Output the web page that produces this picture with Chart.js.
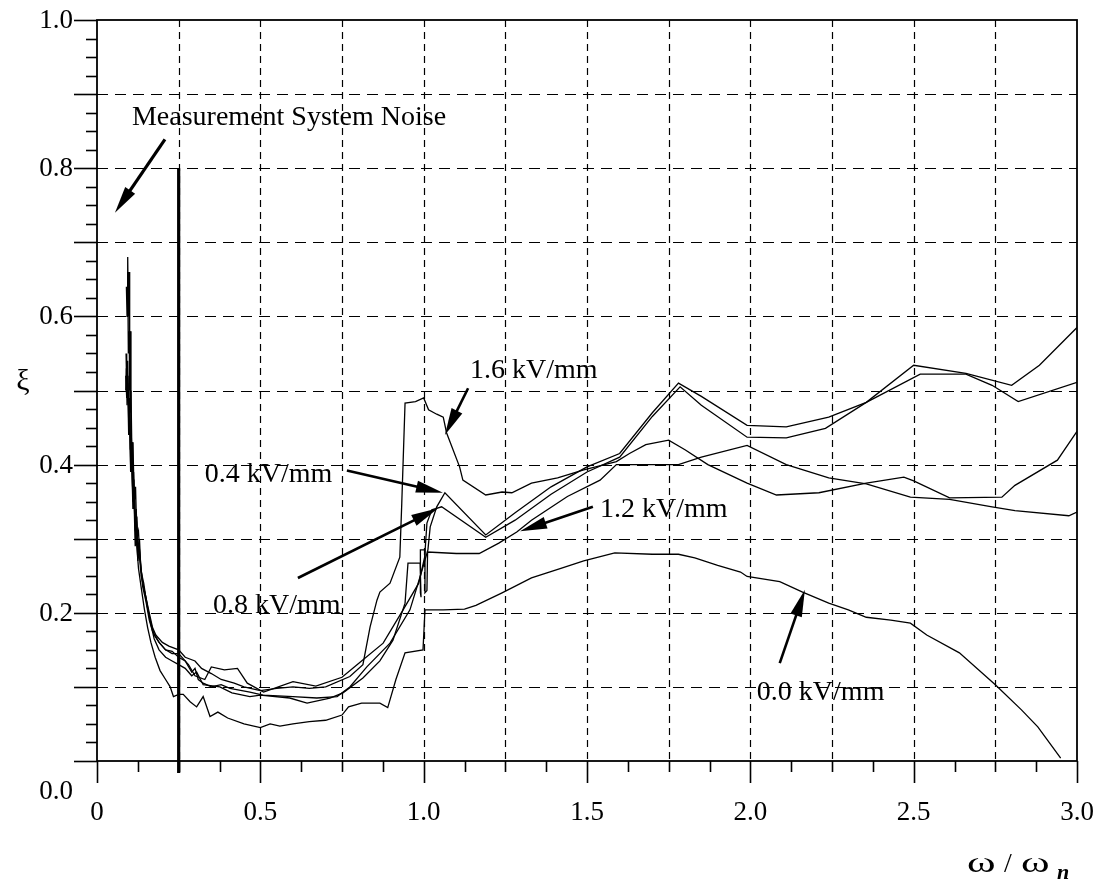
<!DOCTYPE html>
<html>
<head>
<meta charset="utf-8">
<script src="https://cdn.jsdelivr.net/npm/chart.js@4"></script>
<style>
  html, body { margin: 0; padding: 0; background: #fff; }
  #wrap { width: 1104px; height: 885px; }
</style>
</head>
<body>
<div id="wrap"><canvas id="myChart" width="1104" height="885"></canvas></div>
<script>
// damping ratio xi vs omega/omega_n, one array of [x, y] per field strength
const kv00 = [[0.088,0.52],[0.091,0.49],[0.094,0.51],[0.097,0.44],[0.1,0.46],[0.103,0.39],[0.106,0.41],[0.11,0.34],[0.113,0.36],[0.117,0.29],[0.12,0.3],[0.127,0.26],[0.135,0.235],[0.145,0.205],[0.155,0.18],[0.165,0.16],[0.178,0.14],[0.193,0.122],[0.21,0.11],[0.224,0.1],[0.234,0.087],[0.25,0.09],[0.264,0.09],[0.285,0.08],[0.305,0.073],[0.325,0.087],[0.346,0.06],[0.37,0.066],[0.4,0.058],[0.45,0.05],[0.5,0.045],[0.53,0.05],[0.56,0.047],[0.6,0.05],[0.65,0.053],[0.7,0.055],[0.75,0.062],[0.77,0.073],[0.81,0.078],[0.866,0.078],[0.89,0.072],[0.915,0.11],[0.943,0.146],[0.998,0.15],[1.004,0.204],[1.06,0.204],[1.125,0.205],[1.16,0.21],[1.24,0.227],[1.33,0.247],[1.42,0.26],[1.49,0.27],[1.585,0.281],[1.7,0.279],[1.78,0.279],[1.83,0.274],[1.9,0.264],[1.97,0.255],[1.99,0.249],[2.09,0.242],[2.16,0.228],[2.24,0.213],[2.3,0.204],[2.355,0.194],[2.43,0.19],[2.49,0.186],[2.54,0.17],[2.64,0.146],[2.75,0.103],[2.83,0.069],[2.88,0.046],[2.95,0.004]];
const kv04 = [[0.088,0.5],[0.09,0.53],[0.092,0.48],[0.095,0.52],[0.098,0.45],[0.1,0.47],[0.103,0.4],[0.106,0.42],[0.11,0.35],[0.113,0.38],[0.117,0.31],[0.12,0.33],[0.125,0.27],[0.13,0.285],[0.14,0.235],[0.15,0.215],[0.16,0.19],[0.17,0.175],[0.19,0.16],[0.21,0.15],[0.23,0.148],[0.25,0.14],[0.27,0.135],[0.29,0.12],[0.3,0.125],[0.31,0.11],[0.325,0.105],[0.35,0.1],[0.38,0.103],[0.407,0.098],[0.468,0.093],[0.508,0.089],[0.6,0.087],[0.673,0.085],[0.735,0.087],[0.774,0.1],[0.826,0.127],[0.897,0.159],[0.958,0.204],[0.99,0.25],[1.013,0.285],[1.02,0.316],[1.04,0.343],[1.065,0.362],[1.19,0.305],[1.28,0.335],[1.39,0.37],[1.5,0.397],[1.6,0.415],[1.7,0.47],[1.78,0.51],[1.85,0.492],[1.99,0.453],[2.11,0.451],[2.24,0.464],[2.355,0.484],[2.5,0.534],[2.66,0.523],[2.8,0.507],[2.885,0.534],[3.0,0.585]];
const kv08 = [[0.09,0.64],[0.092,0.6],[0.094,0.66],[0.096,0.55],[0.099,0.58],[0.101,0.47],[0.104,0.5],[0.107,0.41],[0.11,0.43],[0.114,0.35],[0.118,0.37],[0.122,0.3],[0.127,0.31],[0.133,0.26],[0.143,0.24],[0.153,0.21],[0.163,0.19],[0.175,0.17],[0.19,0.16],[0.21,0.15],[0.23,0.145],[0.25,0.145],[0.28,0.13],[0.3,0.115],[0.33,0.11],[0.35,0.127],[0.39,0.123],[0.43,0.125],[0.46,0.105],[0.51,0.093],[0.6,0.107],[0.67,0.101],[0.75,0.113],[0.796,0.13],[0.876,0.159],[0.937,0.204],[0.985,0.24],[1.003,0.275],[1.01,0.321],[1.025,0.339],[1.055,0.343],[1.19,0.302],[1.28,0.325],[1.39,0.36],[1.5,0.39],[1.6,0.41],[1.7,0.465],[1.785,0.505],[1.85,0.48],[1.99,0.437],[2.11,0.436],[2.23,0.449],[2.355,0.484],[2.52,0.522],[2.66,0.522],[2.74,0.507],[2.82,0.485],[3.0,0.511]];
const kv12 = [[0.089,0.55],[0.091,0.5],[0.094,0.54],[0.097,0.46],[0.1,0.49],[0.102,0.42],[0.105,0.44],[0.109,0.37],[0.112,0.39],[0.116,0.32],[0.12,0.34],[0.125,0.28],[0.132,0.27],[0.14,0.24],[0.15,0.22],[0.162,0.19],[0.175,0.165],[0.19,0.15],[0.21,0.14],[0.23,0.135],[0.25,0.13],[0.27,0.125],[0.29,0.115],[0.305,0.12],[0.325,0.103],[0.376,0.1],[0.413,0.092],[0.468,0.087],[0.5,0.089],[0.59,0.085],[0.643,0.078],[0.713,0.085],[0.753,0.092],[0.814,0.112],[0.866,0.135],[0.906,0.163],[0.943,0.213],[0.952,0.267],[0.989,0.267],[0.992,0.221],[0.99,0.227],[0.99,0.285],[1.004,0.285],[1.004,0.227],[1.01,0.23],[1.012,0.282],[1.1,0.28],[1.17,0.28],[1.23,0.294],[1.285,0.309],[1.33,0.325],[1.44,0.357],[1.54,0.379],[1.59,0.4],[1.7,0.4],[1.78,0.4],[1.85,0.41],[1.99,0.426],[2.11,0.4],[2.24,0.382],[2.355,0.374],[2.49,0.356],[2.61,0.353],[2.74,0.343],[2.81,0.338],[2.975,0.331],[3.0,0.336]];
const kv16 = [[0.092,0.62],[0.094,0.68],[0.096,0.6],[0.098,0.66],[0.1,0.5],[0.102,0.58],[0.104,0.45],[0.107,0.4],[0.109,0.43],[0.112,0.34],[0.115,0.37],[0.118,0.3],[0.122,0.33],[0.126,0.28],[0.13,0.3],[0.135,0.25],[0.14,0.24],[0.15,0.22],[0.16,0.2],[0.17,0.18],[0.18,0.17],[0.2,0.16],[0.22,0.155],[0.25,0.15],[0.27,0.14],[0.3,0.135],[0.32,0.125],[0.35,0.118],[0.38,0.11],[0.42,0.105],[0.45,0.1],[0.5,0.095],[0.55,0.098],[0.6,0.1],[0.65,0.098],[0.7,0.1],[0.774,0.114],[0.814,0.13],[0.836,0.181],[0.857,0.217],[0.866,0.228],[0.897,0.24],[0.927,0.275],[0.933,0.348],[0.943,0.483],[0.975,0.485],[1.0,0.49],[1.015,0.474],[1.04,0.468],[1.06,0.464],[1.07,0.443],[1.11,0.397],[1.12,0.379],[1.19,0.359],[1.24,0.363],[1.27,0.362],[1.33,0.375],[1.41,0.382],[1.49,0.393],[1.59,0.404],[1.63,0.415],[1.68,0.427],[1.75,0.433],[1.8,0.42],[1.87,0.4],[1.99,0.375],[2.08,0.359],[2.21,0.362],[2.355,0.375],[2.47,0.383],[2.5,0.378],[2.61,0.355],[2.77,0.356],[2.81,0.372],[2.94,0.406],[3.0,0.445]];

const xTickLabels = ['0', '0.5', '1.0', '1.5', '2.0', '2.5', '3.0'];
const xTickValues = [0, 0.5, 1.0, 1.5, 2.0, 2.5, 3.0];
const yTickLabels = ['0.0', '0.2', '0.4', '0.6', '0.8', '1.0'];
const yTickValues = [0, 0.2, 0.4, 0.6, 0.8, 1.0];

const noiseLimit = 0.25; // measurement system noise cut-off
const noiseTop = 0.8;

// annotations: text, [textX, textBaselineY], arrow [tailX, tailY, headX, headY] in data units
const notes = [
  ['Measurement System Noise', [0.107, 0.858], [0.208, 0.839, 0.055, 0.74]],
  ['1.6 kV/mm', [1.142, 0.517], [1.136, 0.503, 1.065, 0.44]],
  ['0.4 kV/mm', [0.33, 0.376], [0.765, 0.392, 1.059, 0.362]],
  ['0.8 kV/mm', [0.355, 0.2], [0.615, 0.247, 1.044, 0.341]],
  ['1.2 kV/mm', [1.54, 0.329], [1.518, 0.343, 1.295, 0.31]],
  ['0.0 kV/mm', [2.02, 0.082], [2.09, 0.132, 2.167, 0.231]]
];

const serif = '"Liberation Serif", "DejaVu Serif", serif';

function toXY(arr) {
  return arr.map(p => ({x: p[0], y: p[1]}));
}

function arrow(ctx, x1, y1, x2, y2, w) {
  const ang = Math.atan2(y2 - y1, x2 - x1);
  const len = 27, half = 6;
  const bx = x2 - len * Math.cos(ang), by = y2 - len * Math.sin(ang);
  ctx.lineWidth = w;
  ctx.beginPath();
  ctx.moveTo(x1, y1);
  ctx.lineTo(bx + 4 * Math.cos(ang), by + 4 * Math.sin(ang));
  ctx.stroke();
  ctx.beginPath();
  ctx.moveTo(x2, y2);
  ctx.lineTo(bx + half * Math.sin(ang), by - half * Math.cos(ang));
  ctx.lineTo(bx - half * Math.sin(ang), by + half * Math.cos(ang));
  ctx.closePath();
  ctx.fill();
}

// wide omega like the original symbol font
function omega(ctx, left, base) {
  ctx.save();
  ctx.translate(left, base);
  ctx.scale(1.55, 1.05);
  ctx.fillText('ω', 0, 0);
  ctx.restore();
}

const frame = {
  id: 'frame',
  beforeDatasetsDraw(chart) {
    const {ctx, chartArea: a, scales: {x, y}} = chart;
    ctx.save();
    ctx.strokeStyle = '#000';
    ctx.lineWidth = 1.2;
    // dashed grid
    ctx.setLineDash([11, 7]);
    for (let i = 1; i < 10; i++) {
      const py = Math.round(y.getPixelForValue(i / 10)) + 0.5;
      ctx.beginPath(); ctx.moveTo(a.left, py); ctx.lineTo(a.right, py); ctx.stroke();
    }
    ctx.setLineDash([7, 5]);
    for (let i = 1; i < 12; i++) {
      const px = Math.round(x.getPixelForValue(i * 0.25)) + 0.5;
      ctx.beginPath(); ctx.moveTo(px, a.top); ctx.lineTo(px, a.bottom); ctx.stroke();
    }
    ctx.setLineDash([]);
    ctx.lineWidth = 1.6;
    // y ticks (outward)
    for (let i = 0; i <= 40; i++) {
      const py = Math.round(y.getPixelForValue(i * 0.025)) + 0.5;
      const len = i % 4 === 0 ? 23 : 11;
      ctx.beginPath(); ctx.moveTo(a.left - len, py); ctx.lineTo(a.left, py); ctx.stroke();
    }
    // x ticks (downward)
    for (let i = 0; i <= 24; i++) {
      const px = Math.round(x.getPixelForValue(i * 0.125)) + 0.5;
      const len = i % 4 === 0 ? 22 : 11;
      ctx.beginPath(); ctx.moveTo(px, a.bottom); ctx.lineTo(px, a.bottom + len); ctx.stroke();
    }
    // box
    ctx.lineWidth = 1.8;
    ctx.strokeRect(a.left, a.top, a.right - a.left, a.bottom - a.top);
    ctx.restore();
  },
  afterDatasetsDraw(chart) {
    const {ctx, chartArea: a, scales: {x, y}} = chart;
    ctx.save();
    ctx.fillStyle = '#000';
    ctx.strokeStyle = '#000';
    // noise limit line
    const nx = x.getPixelForValue(noiseLimit);
    ctx.lineWidth = 3.2;
    ctx.beginPath();
    ctx.moveTo(nx, y.getPixelForValue(noiseTop));
    ctx.lineTo(nx, a.bottom + 12);
    ctx.stroke();

    // tick labels
    ctx.font = '27px ' + serif;
    ctx.textAlign = 'right';
    ctx.textBaseline = 'middle';
    yTickValues.forEach((v, i) => {
      let py = y.getPixelForValue(v);
      if (v === 0) py += 30;
      ctx.fillText(yTickLabels[i], a.left - 24, py + 1);
    });
    ctx.textAlign = 'center';
    ctx.textBaseline = 'alphabetic';
    xTickValues.forEach((v, i) => {
      ctx.fillText(xTickLabels[i], x.getPixelForValue(v), a.bottom + 59);
    });

    // axis titles
    ctx.font = '30px ' + serif;
    ctx.textAlign = 'center';
    ctx.fillText('ξ', 23, 390);
    ctx.textAlign = 'left';
    ctx.font = '28px ' + serif;
    omega(ctx, 967, 872);
    ctx.fillText('/', 1004, 872);
    omega(ctx, 1021, 872);
    ctx.font = 'italic bold 22px ' + serif;
    ctx.fillText('n', 1057, 879);

    // annotations
    ctx.font = '28px ' + serif;
    notes.forEach((n, i) => {
      ctx.fillText(n[0], x.getPixelForValue(n[1][0]), y.getPixelForValue(n[1][1]));
      const r = n[2];
      arrow(ctx, x.getPixelForValue(r[0]), y.getPixelForValue(r[1]),
        x.getPixelForValue(r[2]), y.getPixelForValue(r[3]), i === 0 ? 3.2 : 2.6);
    });
    ctx.restore();
  }
};

const curves = [kv00, kv04, kv08, kv12, kv16];
const names = ['0.0 kV/mm', '0.4 kV/mm', '0.8 kV/mm', '1.2 kV/mm', '1.6 kV/mm'];

const ctx = document.getElementById('myChart');
new Chart(ctx, {
  type: 'scatter',
  data: {
    datasets: curves.map((c, i) => ({
      label: names[i],
      data: toXY(c),
      showLine: true,
      borderColor: '#000',
      backgroundColor: '#000',
      borderWidth: 1.3,
      pointRadius: 0,
      tension: 0
    }))
  },
  options: {
    responsive: false,
    animation: false,
    layout: { padding: { left: 97, right: 27, top: 20, bottom: 124 } },
    plugins: { legend: { display: false }, tooltip: { enabled: false } },
    scales: {
      x: { type: 'linear', min: 0, max: 3, display: false },
      y: { type: 'linear', min: 0, max: 1, display: false }
    }
  },
  plugins: [frame]
});
</script>
</body>
</html>
